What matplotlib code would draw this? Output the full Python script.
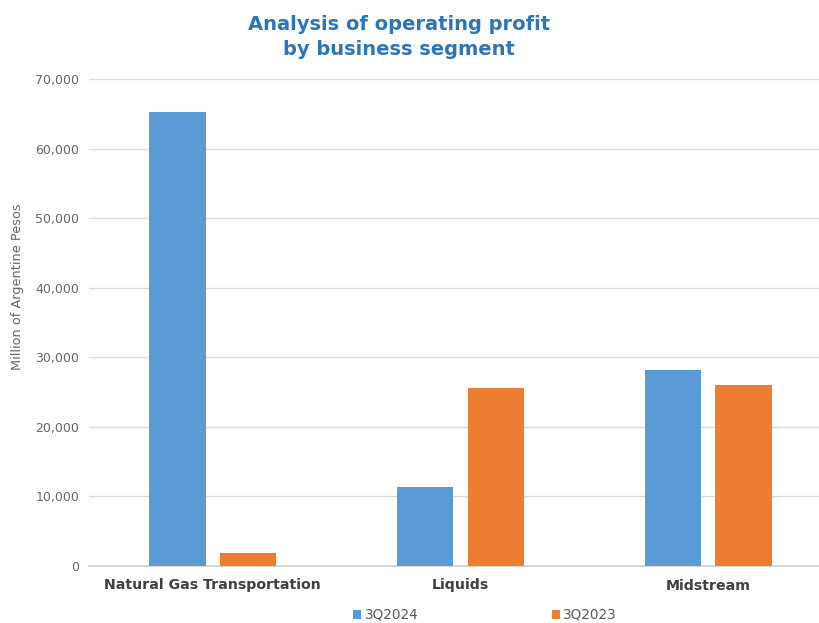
import matplotlib
matplotlib.use('Agg')
import matplotlib.pyplot as plt
import numpy as np
from matplotlib.ticker import FuncFormatter

# data (million ARS)
segments = ['Natural Gas Transportation', 'Liquids', 'Midstream']
q3_2024 = [65200, 11400, 28200]
q3_2023 = [1900, 25600, 26000]
series_names = ['3Q2024', '3Q2023']

blue = '#5B9BD5'
orange = '#ED7D31'

fig = plt.figure(figsize=(8.2, 6.23), dpi=100)
ax = fig.add_axes([89 / 820, 1 - 566 / 623, 743 / 820, (566 - 79) / 623])

x = np.arange(len(segments))
w = 0.227
off = 0.143
ax.bar(x - off, q3_2024, w, color=blue, label=series_names[0], zorder=3)
ax.bar(x + off, q3_2023, w, color=orange, label=series_names[1], zorder=3)

ax.set_xlim(-0.5, 2.5)
ax.set_ylim(0, 70000)
ax.set_yticks(np.arange(0, 70001, 10000))
ax.yaxis.set_major_formatter(FuncFormatter(lambda v, p: f'{int(v):,}'))
ax.grid(axis='y', color='#dcdcdc', linewidth=1, zorder=0)

for s in ['top', 'right', 'left']:
    ax.spines[s].set_visible(False)
ax.spines['bottom'].set_color('#d0d0d0')
ax.spines['bottom'].set_linewidth(1.2)
ax.tick_params(length=0)
ax.tick_params(axis='y', labelsize=9, labelcolor='#666666', pad=7)

ax.set_xticks(x)
ax.set_xticklabels(segments, fontsize=10.2, fontweight='bold', color='#404040',
                   family=['Liberation Sans Narrow', 'DejaVu Sans'])
ax.tick_params(axis='x', pad=9)

fig.text(18 / 820, 1 - 287 / 623, 'Million of Argentine Pesos', rotation=90,
         ha='center', va='center', fontsize=9.3, color='#666666')

fig.text(399 / 820, 1 - 37 / 623, 'Analysis of operating profit\nby business segment',
         ha='center', va='center', fontsize=14, fontweight='bold', color='#2E75B6',
         linespacing=1.35)

fig.legend(loc='center', bbox_to_anchor=(485 / 820, 1 - 615 / 623), ncol=2,
           frameon=False, fontsize=9.8, handlelength=0.6, handleheight=0.6,
           handletextpad=0.25, columnspacing=9.8, labelcolor='#595959')

fig.savefig('out.png', dpi=100)
